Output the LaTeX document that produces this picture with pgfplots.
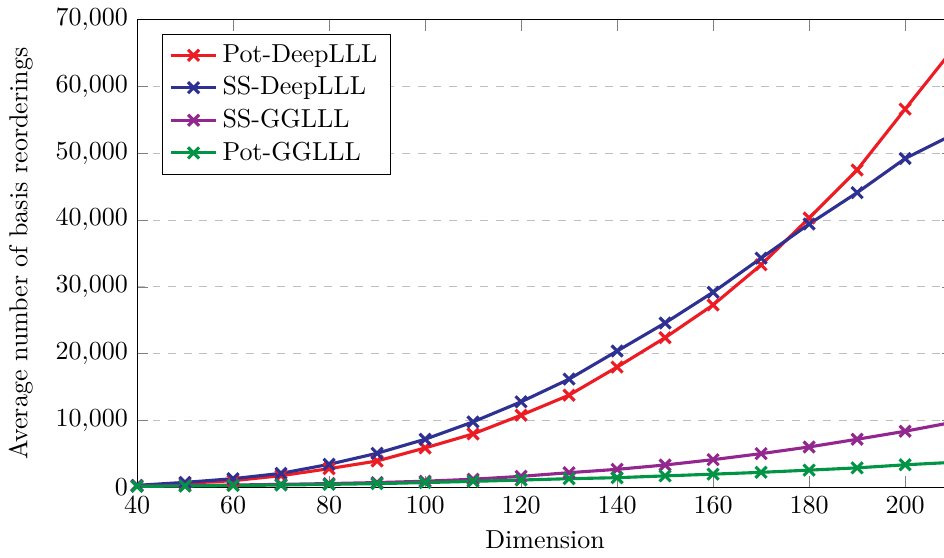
\documentclass[border=0pt]{standalone}
\usepackage{pgfplots}
\pgfplotsset{compat=1.18}
\definecolor{cred}{RGB}{237,28,36}
\definecolor{cblue}{RGB}{46,49,146}
\definecolor{cpurple}{RGB}{146,39,143}
\definecolor{cgreen}{RGB}{0,148,68}
\begin{document}
\begin{tikzpicture}
\begin{axis}[
  name=ax,
  scale only axis,
  width=314pt, height=180pt,
  xmin=40, xmax=210,
  ymin=0, ymax=70000,
  xtick={40,60,...,200},
  ytick={0,10000,...,70000},
  scaled y ticks=false,
  ymajorgrids,
  grid style={dashed, gray!50},
  xlabel={Dimension},
  ylabel={Average number of basis reorderings},
  ylabel shift=2pt,
  legend pos=north west,
  legend cell align=left,
  every axis plot/.append style={line width=1.2pt, mark=x, mark size=3pt},
]
\addplot[cred] coordinates {
(40,250) (50,600) (60,1000) (70,1750) (80,2800) (90,3950) (100,5900) (110,8000)
(120,10800) (130,13800) (140,18000) (150,22400) (160,27300) (170,33300)
(180,40300) (190,47500) (200,56600) (210,65600)};
\addlegendentry{Pot-DeepLLL}
\addplot[cblue] coordinates {
(40,300) (50,750) (60,1300) (70,2100) (80,3450) (90,5100) (100,7200) (110,9800)
(120,12800) (130,16200) (140,20400) (150,24600) (160,29200) (170,34300)
(180,39400) (190,44100) (200,49200) (210,52800)};
\addlegendentry{SS-DeepLLL}
\addplot[cpurple] coordinates {
(40,200) (50,260) (60,350) (70,450) (80,570) (90,720) (100,920) (110,1220)
(120,1650) (130,2200) (140,2700) (150,3350) (160,4150) (170,5050)
(180,6050) (190,7200) (200,8400) (210,9750)};
\addlegendentry{SS-GGLLL}
\addplot[cgreen] coordinates {
(40,150) (50,200) (60,280) (70,350) (80,450) (90,560) (100,720) (110,900)
(120,1100) (130,1300) (140,1450) (150,1720) (160,1980) (170,2250)
(180,2580) (190,2920) (200,3380) (210,3750)};
\addlegendentry{Pot-GGLLL}
\coordinate (crop) at (axis cs:208.1,70000);
\end{axis}
\pgfresetboundingbox
\path[use as bounding box] (ax.outer south west) rectangle (crop |- ax.outer north east);
\end{tikzpicture}
\end{document}
